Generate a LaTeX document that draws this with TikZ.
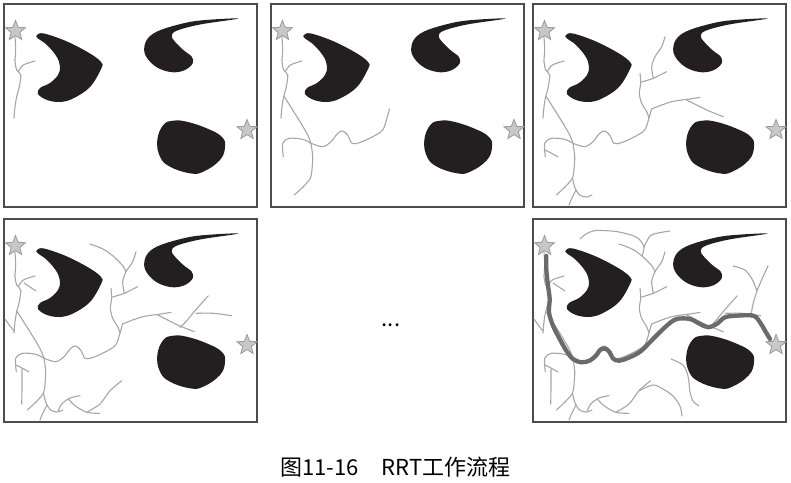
\documentclass[tikz,border=0pt]{standalone}
\usepackage{fontspec}
\setmainfont{Noto Sans CJK SC}
\usepackage{tikz}
\usetikzlibrary{shapes.geometric}

\definecolor{obstcol}{HTML}{231F20}
\definecolor{branchcol}{HTML}{A6A6A6}
\definecolor{routecol}{HTML}{6A6A6A}
\definecolor{starfill}{HTML}{C8C8C8}
\definecolor{starline}{HTML}{999999}

\tikzset{
  obst/.style={fill=obstcol},
  branch/.style={draw=branchcol, line width=1.1pt, line cap=round, line join=round},
  route/.style={draw=routecol, line width=4.3pt, line cap=round, line join=round},
  goalstar/.style={star, star points=5, star point ratio=2.3, minimum size=21pt,
    inner sep=0pt, fill=starfill, draw=starline, line width=0.8pt},
  panelframe/.style={draw=black!70, line width=1.4pt}
}

% obstacles, same in every panel
\newcommand\obstacles{
\fill[obst] plot[smooth cycle, tension=0.6] coordinates {(33,31) (40,29.5) (63,37.5) (86,49.5) (97,58)
  (97.5,64) (86,83) (69,94.5) (56,98) (43,96) (34,90) (36,84) (46,79) (54,71) (56,62.7) (52.7,52.7) (43,41) (33.5,34)};
\fill[obst] plot[smooth cycle, tension=0.6] coordinates {(234.5,14.5) (196,16.5) (172.7,21) (152.7,27.7) (142.7,36)
  (140.3,47.7) (146,57.7) (156,65) (169.3,68.3) (181,66) (188.7,59.3) (187.7,52.7) (179.3,46) (171,37.7) (167.7,32)
  (172.7,26.7) (196,20.5)};
\fill[obst] plot[smooth cycle, tension=0.7] coordinates {(159.3,121) (153.3,136) (156,152.7) (166,162.7) (186,169.3)
  (199.3,167.7) (216,156) (221,142.7) (217.7,132.7) (202.7,124.3) (182.7,117.7) (169.3,116.7)};
}

% the tree, grown in five stages
\newcommand\stageone{
\draw[branch] plot[smooth] coordinates {(11,33) (11.7,46) (11,57.7) (12.7,66) (16.7,71) (15.3,82.7) (12.7,92.7) (11,102.7) (10,114)};
\draw[branch] plot[smooth] coordinates {(14.3,67.7) (19.3,61) (31,57)};
}
\newcommand\stagetwo{
\draw[branch] plot[smooth] coordinates {(13.3,92.7) (21.7,106) (30,119.3) (36.7,131) (40,139.3)};
\draw[branch] plot[smooth] coordinates {(40,139.3) (41.7,152.7) (41,165) (39.5,174) (32,183) (23.3,191)};
\draw[branch] plot[smooth] coordinates {(40,139.3) (31.7,135.3) (18.3,134.3) (11.7,139.3) (12.3,152.7)};
\draw[branch] plot[smooth] coordinates {(40,139.3) (51.7,142.7) (60,137.7) (66.7,129.3) (71.7,127) (76.7,131) (81,139.3)
  (88.3,138.7) (101.7,132.7) (111.7,126) (116,114) (118.5,105)};
}
\newcommand\stagethree{
\draw[branch] plot[smooth] coordinates {(116,114) (113.7,107.7) (108.7,99.3) (106.3,89.3) (107.7,79.3) (107,69.3)};
\draw[branch] plot[smooth] coordinates {(108.5,78) (120.3,74.3) (133.7,67.7)};
\draw[branch] plot[smooth] coordinates {(120.3,74.3) (118.7,62.7) (122,52.7) (128.7,42.7) (132,32.7)};
\draw[branch] plot[smooth] coordinates {(118.5,105) (128.7,101) (138.7,97.7) (148.7,96) (157,95) (167,93.3)};
\draw[branch] plot[smooth] coordinates {(153.7,96) (163.7,101) (173.7,106) (190.3,112.7)};
\draw[branch] plot[smooth] coordinates {(12,146) (18,149) (25,153)};
\draw[branch] plot[smooth] coordinates {(39.5,174) (42,184) (46.7,191) (53,193) (59,191)};
\draw[branch] plot[smooth] coordinates {(43,186) (38,196) (36,201)};
}
\newcommand\stagefour{
\draw[branch] plot[smooth] coordinates {(20,64) (26,68) (32,72)};
\draw[branch] plot[smooth] coordinates {(10,112) (6,107) (1,100)};
\draw[branch] plot[smooth] coordinates {(18,150) (18,168) (17.7,185)};
\draw[branch] plot[smooth] coordinates {(54.3,191.7) (57.7,185) (66,179) (76,176.7)};
\draw[branch] plot[smooth] coordinates {(64.3,180) (71,186.7) (82.7,193.3) (96,194.3)};
\draw[branch] plot[smooth] coordinates {(82.7,193.3) (96,185) (106,171.7) (117.7,161.7)};
\draw[branch] plot[smooth] coordinates {(86,25) (99,30) (109,37) (119,47) (122,52.7)};
\draw[branch] plot[smooth] coordinates {(176,108.5) (182.7,101.7) (191,91.7) (204.3,76.7)};
\draw[branch] plot[smooth] coordinates {(192,94.3) (209.3,94.3) (227.7,96.7)};
}
\newcommand\stagefive{
\draw[branch] plot[smooth] coordinates {(109,37) (111,28) (106,20) (98,16) (83,12.5) (63,11.5) (53,15) (47,20)};
\draw[branch] plot[smooth] coordinates {(111,28) (117,17) (125,14) (137,12)};
\draw[branch] plot[smooth] coordinates {(218,96.5) (220,85) (224,72) (229,60) (235,47)};
\draw[branch] plot[smooth] coordinates {(224,72) (219,60) (212,51) (200,47)};
\draw[branch] plot[smooth] coordinates {(106,171.7) (120,166) (130,170) (140,177) (147,187) (149,197)};
\draw[branch] plot[smooth] coordinates {(138,140) (150,146) (155,157) (157,173) (160,182) (166,187)};
}

% #1,#2 = corner, #3 = name, #4 = tree
\newcommand\panel[4]{
\begin{scope}[shift={(#1,#2)}]
\draw[panelframe] (0,0) rectangle (253,203);
\obstacles
#4
\node[goalstar] (start#3) at (11.5,27) {};
\node[goalstar] (goal#3) at (243,126) {};
\end{scope}
}

\begin{document}
\begin{tikzpicture}[x=1pt,y=-1pt]
\useasboundingbox (0,0) rectangle (791,482);

\panel{4}{4}{a}{\stageone}
\panel{271}{4}{b}{\stageone\stagetwo}
\panel{533}{4}{c}{\stageone\stagetwo\stagethree}
\panel{4}{219}{d}{\stageone\stagetwo\stagethree\stagefour}
\panel{533}{219}{e}{\stageone\stagetwo\stagethree\stagefour\stagefive
  \draw[route] plot[smooth, tension=0.55] coordinates {(13.3,37) (13.3,50) (15,66.7) (16.7,80) (16,93.3) (20,106.7)
    (26.7,120) (33.3,131.7) (40,140) (48.3,143.3) (57,141.5) (63.5,136) (67,131) (71.7,129.5) (76.5,133)
    (80,139.5) (86,141.7) (96.7,138.3) (108,132) (120,120) (133.7,106.7) (143.7,100) (157,100) (167,105) (175.3,108.3)
    (183.7,105) (192,98.3) (203.7,96.7) (220.3,96.7) (227,103.3) (232,111.7) (237,120)};}

\node (dots) at (391,325) {\fontsize{22}{26}\selectfont ...};
\node (caption) at (395.5,467) {\fontsize{22}{26}\selectfont 图11-16\hspace{1.05em}RRT工作流程};
\end{tikzpicture}
\end{document}
